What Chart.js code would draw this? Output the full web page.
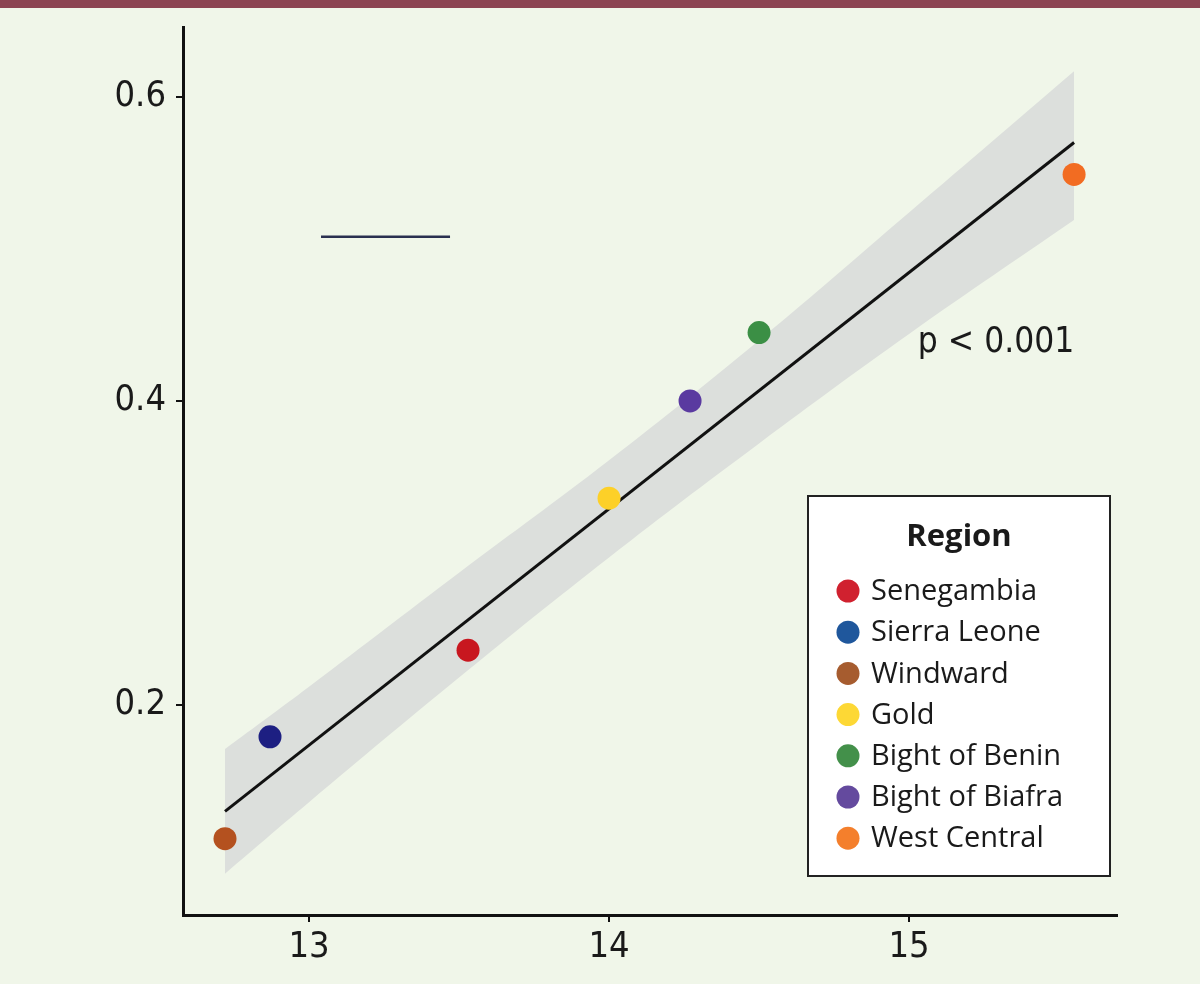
<!DOCTYPE html>
<html>
<head>
<meta charset="utf-8">
<title>Region scatter</title>
<script src="https://cdn.jsdelivr.net/npm/chart.js@4.4.1/dist/chart.umd.min.js"></script>
<style>
    html, body { margin: 0; padding: 0; background: #f0f6e9; }
    canvas { display: block; }
</style>
</head>
<body>
<canvas id="regionChart" width="1200" height="984"></canvas>
<script>
// data
const regions = ['Senegambia', 'Sierra Leone', 'Windward', 'Gold', 'Bight of Benin', 'Bight of Biafra', 'West Central'];
const xValues = [13.53, 12.87, 12.72, 14.0, 14.5, 14.27, 15.55];
const yValues = [0.236, 0.179, 0.112, 0.336, 0.445, 0.400, 0.549];
const pointColors = ['#c8171f', '#1d1f82', '#b4511f', '#fdd028', '#3b8f45', '#5a3aa0', '#f26c22'];
const legendColors = ['#d0212f', '#1f579c', '#a65c2f', '#fdd835', '#43904a', '#644a9e', '#f47f2c'];

// fitted line and confidence band
const fitX = [12.72, 15.55];
const fitY = [0.130, 0.570];
const bandX = [12.72, 13.0, 13.5, 14.0, 14.5, 15.0, 15.55];
const bandUpper = [0.171, 0.212, 0.287, 0.361, 0.440, 0.524, 0.617];
const bandLower = [0.089, 0.136, 0.218, 0.297, 0.372, 0.444, 0.519];

// short stray segment in the upper left
const segX = [13.04, 13.47];
const segY = [0.508, 0.508];

const xTicks = [13, 14, 15];
const yTicks = [0.2, 0.4, 0.6];
const pText = 'p < 0.001';
const pPos = { x: 15.29, y: 0.438 };

const tickFamily = "'DejaVu Sans', sans-serif";
const legendFont = "'Open Sans', 'Noto Sans', sans-serif";

const toPoints = (xs, ys) => xs.map((x, i) => ({ x: x, y: ys[i] }));

const datasets = [
    {
        label: 'upper',
        data: toPoints(bandX, bandUpper),
        borderWidth: 0,
        pointRadius: 0,
        tension: 0.4,
        fill: '+1',
        backgroundColor: '#dcdfdc',
        order: 5,
    },
    {
        label: 'lower',
        data: toPoints(bandX, bandLower),
        borderWidth: 0,
        pointRadius: 0,
        tension: 0.4,
        fill: false,
        order: 5,
    },
    {
        label: 'fit',
        data: toPoints(fitX, fitY),
        borderColor: '#111111',
        borderWidth: 3,
        pointRadius: 0,
        fill: false,
        order: 3,
    },
    {
        label: 'segment',
        data: toPoints(segX, segY),
        borderColor: '#2a3050',
        borderWidth: 2.5,
        pointRadius: 0,
        fill: false,
        order: 3,
    },
];

regions.forEach((name, i) => {
    datasets.push({
        label: name,
        data: [{ x: xValues[i], y: yValues[i] }],
        showLine: false,
        pointRadius: 11.5,
        pointHoverRadius: 11.5,
        pointBackgroundColor: pointColors[i],
        pointBorderWidth: 0,
        order: 1,
    });
});

const backdrop = {
    id: 'backdrop',
    beforeDraw(chart) {
        const ctx = chart.ctx;
        ctx.save();
        ctx.fillStyle = '#f0f6e9';
        ctx.fillRect(0, 0, chart.width, chart.height);
        ctx.fillStyle = '#8c4452';
        ctx.fillRect(0, 0, chart.width, 8);
        ctx.restore();
    },
};

const regionLegend = {
    id: 'regionLegend',
    afterDraw(chart) {
        const ctx = chart.ctx;
        const left = 808, top = 496, w = 302, h = 380;
        ctx.save();
        ctx.fillStyle = '#ffffff';
        ctx.fillRect(left, top, w, h);
        ctx.strokeStyle = '#222222';
        ctx.lineWidth = 2;
        ctx.strokeRect(left, top, w, h);

        ctx.fillStyle = '#1a1a1a';
        ctx.textAlign = 'center';
        ctx.textBaseline = 'middle';
        ctx.font = "bold 31px " + legendFont;
        ctx.fillText('Region', left + w / 2, top + 41);

        ctx.font = "29px " + legendFont;
        ctx.textAlign = 'left';
        regions.forEach((name, i) => {
            const cy = top + 95 + i * 41.2;
            ctx.beginPath();
            ctx.arc(left + 40, cy, 11.5, 0, Math.PI * 2);
            ctx.fillStyle = legendColors[i];
            ctx.fill();
            ctx.fillStyle = '#1a1a1a';
            ctx.fillText(name, left + 63, cy + 1);
        });

        // p value note
        const px = chart.scales.x.getPixelForValue(pPos.x);
        const py = chart.scales.y.getPixelForValue(pPos.y);
        ctx.font = "condensed 35px " + tickFamily;
        ctx.textAlign = 'center';
        ctx.fillText(pText, px, py);
        ctx.restore();
    },
};

new Chart(document.getElementById('regionChart').getContext('2d'), {
    type: 'line',
    data: { datasets: datasets },
    options: {
        responsive: false,
        devicePixelRatio: 1,
        animation: false,
        layout: { padding: { top: 27, right: 83, left: 0, bottom: 0 } },
        plugins: {
            legend: { display: false },
            tooltip: { enabled: false },
        },
        scales: {
            x: {
                type: 'linear',
                min: 12.58,
                max: 15.693,
                afterBuildTicks: (scale) => { scale.ticks = xTicks.map(v => ({ value: v })); },
                afterFit: (scale) => {
                    scale.height = 69;
                    scale.paddingLeft = 0;
                    scale.paddingRight = 0;
                },
                grid: { drawOnChartArea: false, drawTicks: true, tickLength: 7, color: '#111111', lineWidth: 2 },
                border: { display: true, color: '#111111', width: 3 },
                ticks: {
                    padding: 4,
                    color: '#1a1a1a',
                    font: { family: tickFamily, size: 36, weight: 'condensed' },
                    callback: (v) => String(v),
                },
            },
            y: {
                type: 'linear',
                min: 0.0618,
                max: 0.646,
                afterBuildTicks: (scale) => { scale.ticks = yTicks.map(v => ({ value: v })); },
                afterFit: (scale) => {
                    scale.width = 183;
                    scale.paddingTop = 0;
                    scale.paddingBottom = 0;
                },
                grid: { drawOnChartArea: false, drawTicks: true, tickLength: 7, color: '#111111', lineWidth: 2 },
                border: { display: true, color: '#111111', width: 3 },
                ticks: {
                    padding: 10,
                    color: '#1a1a1a',
                    font: { family: tickFamily, size: 36, weight: 'condensed' },
                    callback: (v) => v.toFixed(1),
                },
            },
        },
    },
    plugins: [backdrop, regionLegend],
});
</script>
</body>
</html>
